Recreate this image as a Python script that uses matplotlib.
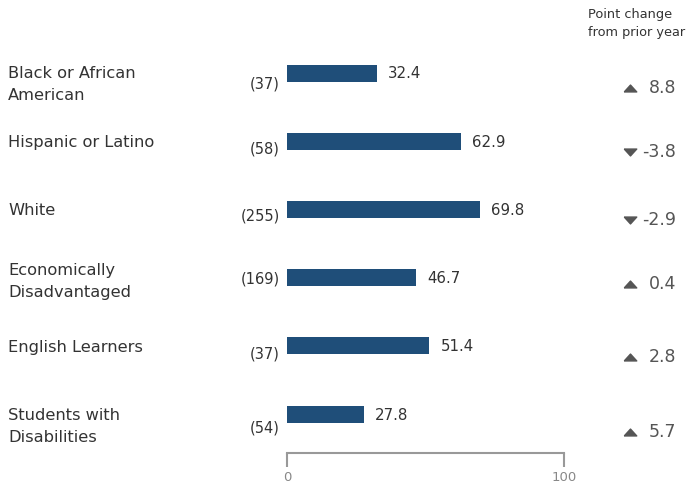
import matplotlib
matplotlib.use("Agg")
import matplotlib.pyplot as plt
from matplotlib.path import Path

categories = ["Black or African\nAmerican", "Hispanic or Latino", "White",
              "Economically\nDisadvantaged", "English Learners", "Students with\nDisabilities"]
counts = [37, 58, 255, 169, 37, 54]
values = [32.4, 62.9, 69.8, 46.7, 51.4, 27.8]
changes = [8.8, -3.8, -2.9, 0.4, 2.8, 5.7]
x_ticks = [0, 100]

# layout (pixel offsets of side texts relative to bar centre)
label_off = [0, 1, 1, -7, 2, 2]
count_off = [11, 8, 7, 1, 8, 14]
change_off = [15, 11, 11, 6, 11, 18]

plt.rcParams['font.family'] = ['DejaVu Sans']
W, H = 692, 484
fig = plt.figure(figsize=(W / 100, H / 100), dpi=100)
ax_l, ax_r = 287, 564
ax_b, ax_t = 453, 40
ax = fig.add_axes([ax_l / W, 1 - ax_b / H, (ax_r - ax_l) / W, (ax_b - ax_t) / H])

y0, sp = 73, 68.2
ax.set_ylim((ax_b - y0) / sp, (ax_t - y0) / sp)
ax.set_xlim(0, 100)
ys = list(range(len(categories)))
bar_color = "#1f4e79"
ax.barh(ys, values, height=17 / sp, color=bar_color)

up_tri = Path([(-1, -0.55), (1, -0.55), (0, 0.55), (-1, -0.55)])
dn_tri = Path([(-1, 0.55), (1, 0.55), (0, -0.55), (-1, 0.55)])

tr = ax.get_yaxis_transform()
txt = "#333333"
for i, y in enumerate(ys):
    ax.text(values[i] + 4.0, y + 1 / sp, f"{values[i]:.1f}", va="center", ha="left",
            fontsize=10.8, color=txt)
    for k, line in enumerate(categories[i].split("\n")):
        ax.text(-1.007, y + (label_off[i] + 22 * k) / sp, line, transform=tr,
                ha="left", va="center", fontsize=11.7, color=txt)
    ax.text(-0.025, y + count_off[i] / sp, f"({counts[i]})", transform=tr,
            ha="right", va="center", fontsize=10.5, color=txt)
    ch = changes[i]
    ax.text(1.404, y + change_off[i] / sp, f"{ch:.1f}", transform=tr,
            ha="right", va="center", fontsize=12.5, color="#555555")
    ax.plot([1.237], [y + change_off[i] / sp], transform=tr,
            marker=up_tri if ch >= 0 else dn_tri, color="#555555", markersize=9,
            clip_on=False, linestyle="none")

ax.text(1.087, (23.5 - y0) / sp, "Point change\nfrom prior year", transform=tr,
        ha="left", va="center", fontsize=9.3, color=txt, linespacing=1.45)

for s in ["left", "right", "top"]:
    ax.spines[s].set_visible(False)
ax.spines["bottom"].set_color("#999999")
ax.spines["bottom"].set_linewidth(1.5)
ax.set_yticks([])
ax.set_xticks(x_ticks)
ax.tick_params(axis="x", length=10, width=1.5, color="#999999",
               labelcolor="#888888", labelsize=9.5, pad=3, direction="out")

fig.savefig("out.png", dpi=100)
